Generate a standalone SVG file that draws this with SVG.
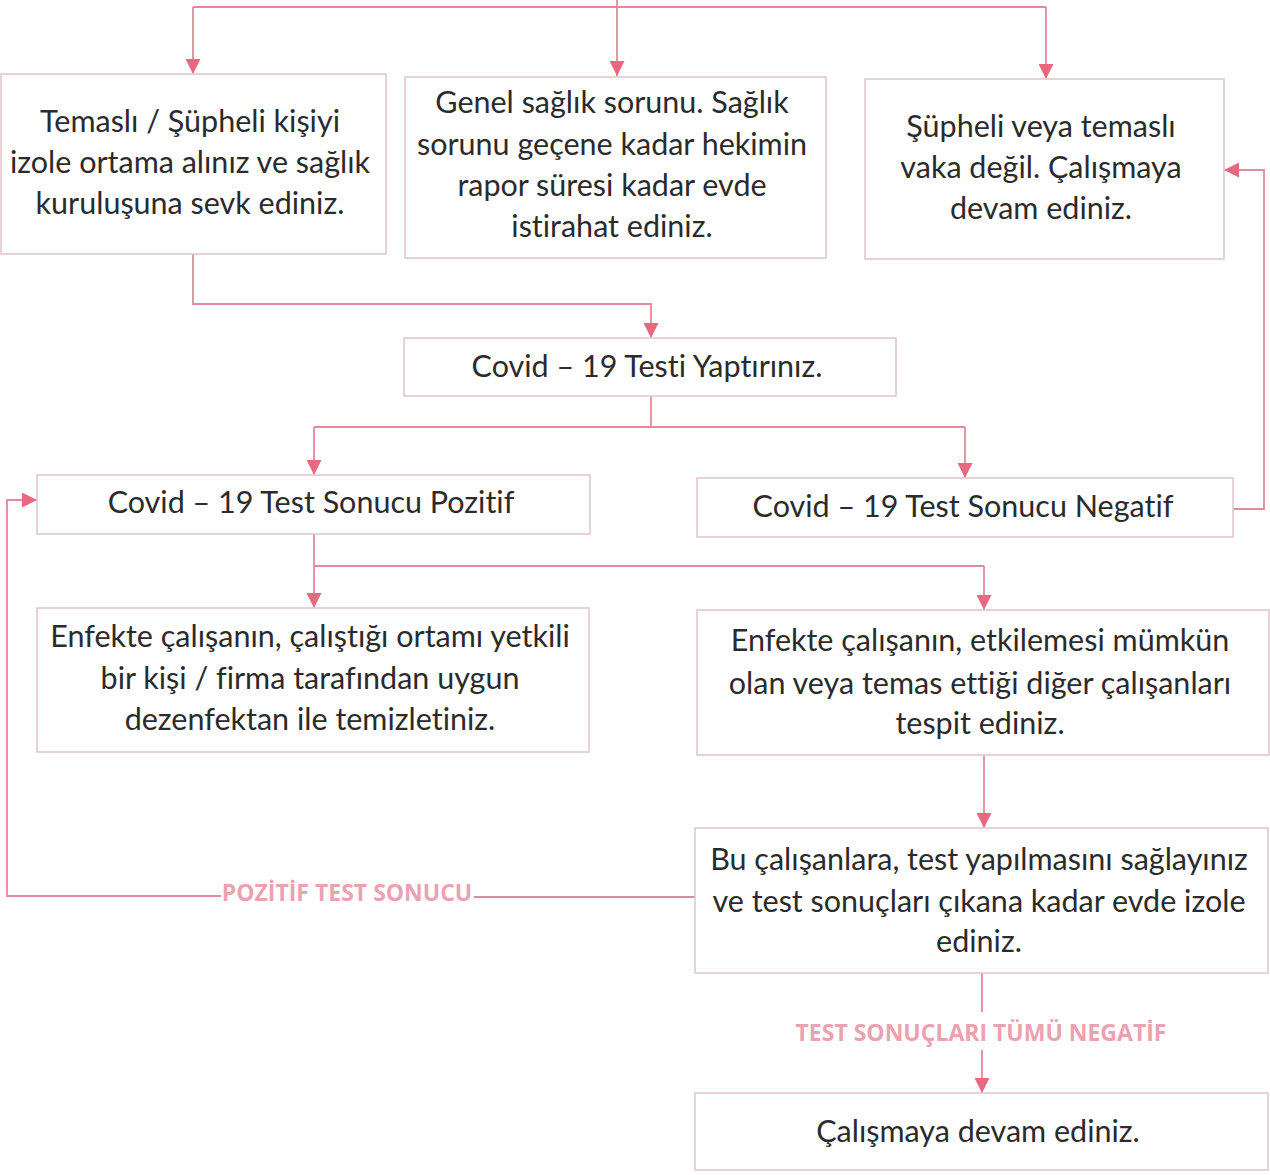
<svg xmlns="http://www.w3.org/2000/svg" width="1270" height="1175" viewBox="0 0 1270 1175">
<style>
.box{fill:#ffffff;stroke:#e2c9ce;stroke-width:1.6}
.t{font-family:Lato,"Open Sans","Liberation Sans",sans-serif;font-size:30.5px;fill:#2b2b2b;text-anchor:middle;font-variant-ligatures:none}
.c{fill:none;stroke:#e08b9b;stroke-width:1.8}
.lbl{font-family:"Open Sans","Liberation Sans",sans-serif;font-size:23px;font-weight:bold;fill:#eba2b0;text-anchor:middle;font-variant-ligatures:none}
</style>
<defs>
<marker id="ah" viewBox="0 0 10 10" refX="10" refY="5" markerWidth="15" markerHeight="15" markerUnits="userSpaceOnUse" orient="auto">
<path d="M0,0 L10,5 L0,10 Z" fill="#e8687f"/>
</marker>
</defs>
<rect width="1270" height="1175" fill="#ffffff"/>
<g id="connectors">
<path class="c" d="M617,0 V7"/>
<path class="c" d="M193,7 H1046"/>
<path class="c" d="M193,7 V74" marker-end="url(#ah)"/>
<path class="c" d="M617,7 V76" marker-end="url(#ah)"/>
<path class="c" d="M1046,7 V79" marker-end="url(#ah)"/>
<path class="c" d="M193,254 V304 H651 V338" marker-end="url(#ah)"/>
<path class="c" d="M651,396 V427"/>
<path class="c" d="M314,427 H965"/>
<path class="c" d="M314,427 V475" marker-end="url(#ah)"/>
<path class="c" d="M965,427 V478" marker-end="url(#ah)"/>
<path class="c" d="M1233,509 H1264 V170 H1224" marker-end="url(#ah)"/>
<path class="c" d="M314,534 V566 H984"/>
<path class="c" d="M314,566 V608" marker-end="url(#ah)"/>
<path class="c" d="M984,566 V610" marker-end="url(#ah)"/>
<path class="c" d="M984,755 V828" marker-end="url(#ah)"/>
<path class="c" d="M695,897 H474"/>
<path class="c" d="M221,896 H7 V500 H37" marker-end="url(#ah)"/>
<text class="lbl" x="347" y="901">POZİTİF TEST SONUCU</text>
<path class="c" d="M982,973 V1012"/>
<path class="c" d="M982,1050 V1093" marker-end="url(#ah)"/>
<text class="lbl" x="981" y="1041">TEST SONUÇLARI TÜMÜ NEGATİF</text>
</g>
<g id="n1">
<rect class="box" x="1" y="74" width="385" height="180"/>
<text class="t" x="190" y="132">Temaslı / Şüpheli kişiyi</text>
<text class="t" x="190" y="173">izole ortama alınız ve sağlık</text>
<text class="t" x="190" y="214">kuruluşuna sevk ediniz.</text>
</g>
<g id="n2">
<rect class="box" x="405" y="77" width="421" height="181"/>
<text class="t" x="612" y="113">Genel sağlık sorunu. Sağlık</text>
<text class="t" x="612" y="155">sorunu geçene kadar hekimin</text>
<text class="t" x="612" y="196">rapor süresi kadar evde</text>
<text class="t" x="612" y="237">istirahat ediniz.</text>
</g>
<g id="n3">
<rect class="box" x="865" y="79" width="359" height="180"/>
<text class="t" x="1041" y="137">Şüpheli veya temaslı</text>
<text class="t" x="1041" y="178">vaka değil. Çalışmaya</text>
<text class="t" x="1041" y="219">devam ediniz.</text>
</g>
<g id="n4">
<rect class="box" x="404" y="338" width="492" height="58"/>
<text class="t" x="647" y="377">Covid – 19 Testi Yaptırınız.</text>
</g>
<g id="n5">
<rect class="box" x="37" y="475" width="553" height="59"/>
<text class="t" x="311" y="513">Covid – 19 Test Sonucu Pozitif</text>
</g>
<g id="n6">
<rect class="box" x="697" y="478" width="536" height="59"/>
<text class="t" x="963" y="517">Covid – 19 Test Sonucu Negatif</text>
</g>
<g id="n7">
<rect class="box" x="37" y="608" width="552" height="144"/>
<text class="t" x="310" y="647">Enfekte çalışanın, çalıştığı ortamı yetkili</text>
<text class="t" x="310" y="689">bir kişi / firma tarafından uygun</text>
<text class="t" x="310" y="730">dezenfektan ile temizletiniz.</text>
</g>
<g id="n8">
<rect class="box" x="697" y="610" width="572" height="145"/>
<text class="t" x="980" y="651">Enfekte çalışanın, etkilemesi mümkün</text>
<text class="t" x="980" y="694">olan veya temas ettiği  diğer çalışanları</text>
<text class="t" x="980" y="734">tespit ediniz.</text>
</g>
<g id="n9">
<rect class="box" x="695" y="828" width="573" height="145"/>
<text class="t" x="979" y="870">Bu çalışanlara, test yapılmasını sağlayınız</text>
<text class="t" x="979" y="912">ve test sonuçları çıkana kadar evde izole</text>
<text class="t" x="979" y="952">ediniz.</text>
</g>
<g id="n10">
<rect class="box" x="695" y="1093" width="573" height="77"/>
<text class="t" x="978" y="1142">Çalışmaya devam ediniz.</text>
</g>
</svg>
